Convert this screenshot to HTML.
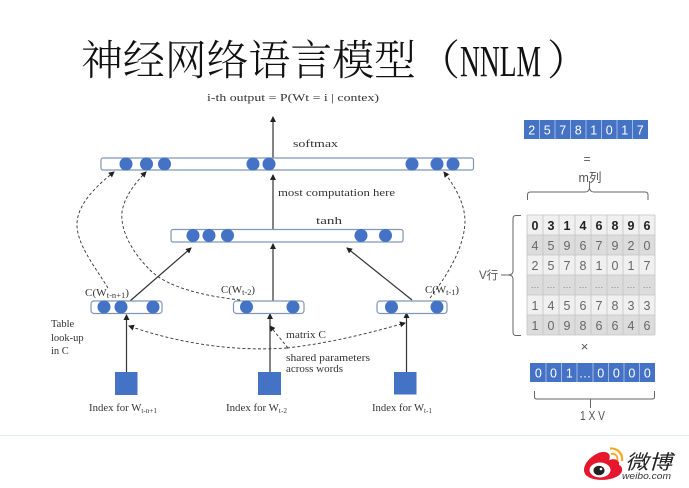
<!DOCTYPE html>
<html><head><meta charset="utf-8"><style>
html,body{margin:0;padding:0;background:#fff;width:689px;height:488px;overflow:hidden}
svg{display:block;filter:blur(.35px)}
.s{font-family:"Liberation Serif",serif;fill:#333;font-size:10.500px}
.a{font-family:"Liberation Sans","Noto Sans CJK SC",sans-serif;fill:#555}
.b{fill:#fff;stroke:#7f96b8;stroke-width:1.2}
.c{fill:#4472c4}
.d{fill:none;stroke:#333;stroke-width:.9;stroke-dasharray:3 2.2}
.l{stroke:#333;stroke-width:1.2;fill:none}
.br{fill:none;stroke:#666;stroke-width:1}
</style></head><body>
<svg width="689" height="488" viewBox="0 0 689 488" xmlns="http://www.w3.org/2000/svg">
<defs><marker id="m" markerWidth="7" markerHeight="7" refX="5" refY="3" orient="auto" markerUnits="userSpaceOnUse"><path d="M0 0L6 3L0 6z" fill="#222"/></marker></defs>

<text x="81" y="75" font-family="'Noto Serif CJK SC','IPAGothic',serif" font-weight="300" font-size="42" fill="#111" textLength="335" lengthAdjust="spacing">神经网络语言模型</text>
<text x="418" y="75" font-family="'Noto Serif CJK SC','IPAGothic',serif" font-weight="300" font-size="42" fill="#111">（</text>
<text x="460" y="76" font-family="'Liberation Serif',serif" font-size="44" fill="#111" textLength="81" lengthAdjust="spacingAndGlyphs">NNLM</text>
<text x="547" y="75" font-family="'Noto Serif CJK SC','IPAGothic',serif" font-weight="300" font-size="42" fill="#111">）</text>

<text class="s" x="207" y="101" font-size="11.500" fill="#222" textLength="172" lengthAdjust="spacingAndGlyphs">i-th output = P(Wt = i | contex)</text>
<text class="s" x="293" y="147" font-size="12" textLength="45" lengthAdjust="spacingAndGlyphs">softmax</text>
<text class="s" x="278" y="196" font-size="11" textLength="117" lengthAdjust="spacingAndGlyphs">most computation here</text>
<text class="s" x="316" y="224" font-size="12" textLength="26" lengthAdjust="spacingAndGlyphs">tanh</text>

<line class="l" x1="273" y1="158" x2="273" y2="117" marker-end="url(#m)"/>
<line class="l" x1="273" y1="229" x2="273" y2="175" marker-end="url(#m)"/>
<line class="l" x1="273" y1="301" x2="273" y2="244" marker-end="url(#m)"/>
<line class="l" x1="130" y1="301" x2="191" y2="248" marker-end="url(#m)"/>
<line class="l" x1="412" y1="300" x2="347" y2="248" marker-end="url(#m)"/>
<line class="l" x1="126.500" y1="372" x2="126.500" y2="315" marker-end="url(#m)"/>
<line class="l" x1="270" y1="372" x2="270" y2="314" stroke-width="1.500" marker-end="url(#m)"/>
<line class="l" x1="406.500" y1="372" x2="406.500" y2="313" marker-end="url(#m)"/>

<rect class="b" x="101" y="158" width="372.500" height="12" rx="2"/>
<rect class="b" x="171" y="229.500" width="232" height="12.500" rx="2"/>
<rect class="b" x="91" y="301" width="71" height="12.500" rx="3"/>
<rect class="b" x="233.500" y="301" width="70.500" height="12.500" rx="3"/>
<rect class="b" x="377" y="301" width="70" height="12.500" rx="3"/>

<g class="c">
<circle cx="126" cy="164" r="6.500"/><circle cx="146.500" cy="164" r="6.500"/><circle cx="164.500" cy="164" r="6.500"/>
<circle cx="253" cy="164" r="6.500"/><circle cx="269" cy="164" r="6.500"/><circle cx="412" cy="164" r="6.500"/>
<circle cx="437" cy="164" r="6.500"/><circle cx="453" cy="164" r="6.500"/>
<circle cx="193" cy="235.500" r="6.500"/><circle cx="209" cy="235.500" r="6.500"/><circle cx="227.500" cy="235.500" r="6.500"/>
<circle cx="361" cy="235.500" r="6.500"/><circle cx="385.500" cy="235.500" r="6.500"/>
<circle cx="104" cy="307" r="6.500"/><circle cx="121" cy="307" r="6.500"/><circle cx="153" cy="307" r="6.500"/>
<circle cx="246.500" cy="307" r="6.500"/><circle cx="293" cy="307" r="6.500"/>
<circle cx="391.500" cy="307" r="6.500"/><circle cx="437" cy="307" r="6.500"/>
<rect x="115" y="372" width="22.500" height="23"/><rect x="258" y="372" width="23" height="23"/><rect x="394" y="372" width="22.500" height="22.500"/>
</g>

<path class="d" d="M108 288C96 268 76 244 77 223C78 204 96 186 114 172" marker-end="url(#m)"/>
<path class="d" d="M240 300C205 296 168 288 150 270C134 254 120 232 122 212C124 198 134 184 146 172" marker-end="url(#m)"/>
<path class="d" d="M430 298C445 278 464 250 465 222C465 204 456 188 444 172" marker-end="url(#m)"/>
<path class="d" d="M287 348C230 352 175 342 129 326" marker-end="url(#m)"/>
<path class="d" d="M287 348C330 343 370 333 405 323" marker-end="url(#m)"/>
<path class="d" d="M288 348L270 326" marker-end="url(#m)"/>

<text class="s" x="85" y="296" font-size="12" textLength="44" lengthAdjust="spacingAndGlyphs">C(W<tspan font-size="8" dy="2">t-n+1</tspan><tspan dy="-2">)</tspan></text>
<text class="s" x="221" y="293" font-size="12" textLength="34" lengthAdjust="spacingAndGlyphs">C(W<tspan font-size="8" dy="2">t-2</tspan><tspan dy="-2">)</tspan></text>
<text class="s" x="425" y="293" font-size="12" textLength="34" lengthAdjust="spacingAndGlyphs">C(W<tspan font-size="8" dy="2">t-1</tspan><tspan dy="-2">)</tspan></text>
<text class="s" x="51" y="327" font-size="11.500">Table</text>
<text class="s" x="51" y="341" font-size="11.500">look-up</text>
<text class="s" x="51" y="354" font-size="11.500">in C</text>
<text class="s" x="286" y="338" font-size="11" textLength="40" lengthAdjust="spacingAndGlyphs">matrix C</text>
<text class="s" x="286" y="361" font-size="10.500" textLength="84" lengthAdjust="spacingAndGlyphs">shared parameters</text>
<text class="s" x="286" y="372" font-size="10.500" textLength="57" lengthAdjust="spacingAndGlyphs">across words</text>
<text class="s" x="89" y="411" font-size="10.500" textLength="68" lengthAdjust="spacingAndGlyphs">Index for W<tspan font-size="7" dy="2">t-n+1</tspan></text>
<text class="s" x="226" y="411" font-size="10.500" textLength="61" lengthAdjust="spacingAndGlyphs">Index for W<tspan font-size="7" dy="2">t-2</tspan></text>
<text class="s" x="372" y="411" font-size="10.500" textLength="60" lengthAdjust="spacingAndGlyphs">Index for W<tspan font-size="7" dy="2">t-1</tspan></text>

<!-- top array -->
<rect x="524" y="120" width="124" height="19" fill="#4472c4"/>
<g stroke="#b9c9e6" stroke-width=".8">
<line x1="539.500" y1="120" x2="539.500" y2="139"/><line x1="555" y1="120" x2="555" y2="139"/><line x1="570.500" y1="120" x2="570.500" y2="139"/><line x1="586" y1="120" x2="586" y2="139"/><line x1="601.500" y1="120" x2="601.500" y2="139"/><line x1="617" y1="120" x2="617" y2="139"/><line x1="632.500" y1="120" x2="632.500" y2="139"/>
</g>
<g font-family="'Liberation Sans',sans-serif" font-size="12.500" fill="#fff" text-anchor="middle">
<text x="531.700" y="134.500">2</text><text x="547.200" y="134.500">5</text><text x="562.700" y="134.500">7</text><text x="578.200" y="134.500">8</text><text x="593.700" y="134.500">1</text><text x="609.200" y="134.500">0</text><text x="624.700" y="134.500">1</text><text x="640.200" y="134.500">7</text>
</g>
<text class="a" x="587" y="163" font-size="12" text-anchor="middle">=</text>
<text class="a" x="590" y="182" font-size="12.500" text-anchor="middle">m列</text>
<path class="br" d="M527.500 200V195Q527.500 192 530.500 192H585Q589 192 589.500 188V181M589.500 188Q590 192 594 192H645Q648 192 648 195V200"/>

<!-- table -->
<rect x="527" y="215" width="128" height="20" fill="#f0f0f0"/>
<rect x="527" y="235" width="128" height="20" fill="#dcdcdc"/>
<rect x="527" y="255" width="128" height="20" fill="#f0f0f0"/>
<rect x="527" y="275" width="128" height="20" fill="#dcdcdc"/>
<rect x="527" y="295" width="128" height="20" fill="#f0f0f0"/>
<rect x="527" y="315" width="128" height="20" fill="#dcdcdc"/>
<g stroke="#c4c4c4" stroke-width=".8">
<path fill="none" d="M527 215H655M527 235H655M527 255H655M527 275H655M527 295H655M527 315H655M527 335H655M527 215V335M543 215V335M559 215V335M575 215V335M591 215V335M607 215V335M623 215V335M639 215V335M655 215V335"/>
</g>
<g font-family="'Liberation Sans',sans-serif" font-size="12.500" fill="#444" text-anchor="middle">
<g font-weight="700" fill="#222"><text x="535" y="230">0</text><text x="551" y="230">3</text><text x="567" y="230">1</text><text x="583" y="230">4</text><text x="599" y="230">6</text><text x="615" y="230">8</text><text x="631" y="230">9</text><text x="647" y="230">6</text></g>
<g fill="#666"><text x="535" y="250">4</text><text x="551" y="250">5</text><text x="567" y="250">9</text><text x="583" y="250">6</text><text x="599" y="250">7</text><text x="615" y="250">9</text><text x="631" y="250">2</text><text x="647" y="250">0</text></g>
<g fill="#666"><text x="535" y="270">2</text><text x="551" y="270">5</text><text x="567" y="270">7</text><text x="583" y="270">8</text><text x="599" y="270">1</text><text x="615" y="270">0</text><text x="631" y="270">1</text><text x="647" y="270">7</text></g>
<g fill="#777" font-size="9"><text x="535" y="288">…</text><text x="551" y="288">…</text><text x="567" y="288">…</text><text x="583" y="288">…</text><text x="599" y="288">…</text><text x="615" y="288">…</text><text x="631" y="288">…</text><text x="647" y="288">…</text></g>
<g fill="#666"><text x="535" y="310">1</text><text x="551" y="310">4</text><text x="567" y="310">5</text><text x="583" y="310">6</text><text x="599" y="310">7</text><text x="615" y="310">8</text><text x="631" y="310">3</text><text x="647" y="310">3</text></g>
<g fill="#666"><text x="535" y="330">1</text><text x="551" y="330">0</text><text x="567" y="330">9</text><text x="583" y="330">8</text><text x="599" y="330">6</text><text x="615" y="330">6</text><text x="631" y="330">4</text><text x="647" y="330">6</text></g>
</g>
<text class="a" x="479" y="279" font-size="11.500">V行</text>
<path class="br" d="M521 215.500H516Q513 215.500 513 218.500V271Q513 275 508 275H501M508 275Q513 275 513 279V332Q513 335.500 516 335.500H521"/>

<text class="a" x="584.500" y="351" font-size="13" text-anchor="middle">×</text>

<!-- bottom array -->
<rect x="530" y="363" width="125" height="19" fill="#4472c4"/>
<g stroke="#b9c9e6" stroke-width=".8">
<line x1="546" y1="363" x2="546" y2="382"/><line x1="561.500" y1="363" x2="561.500" y2="382"/><line x1="577" y1="363" x2="577" y2="382"/><line x1="593" y1="363" x2="593" y2="382"/><line x1="608.500" y1="363" x2="608.500" y2="382"/><line x1="624" y1="363" x2="624" y2="382"/><line x1="639.500" y1="363" x2="639.500" y2="382"/>
</g>
<g font-family="'Liberation Sans',sans-serif" font-size="12.500" fill="#fff" text-anchor="middle">
<text x="538.300" y="377.500">0</text><text x="553.500" y="377.500">0</text><text x="569.300" y="377.500">1</text><text x="585" y="377.500">…</text><text x="600.700" y="377.500">0</text><text x="616.300" y="377.500">0</text><text x="631.800" y="377.500">0</text><text x="647.300" y="377.500">0</text>
</g>
<path class="br" d="M534.500 391V397Q534.500 399 537 399H590.500V408M590.500 399H652Q654.500 399 654.500 397V391"/>
<text class="a" x="580" y="420" font-size="12.500" textLength="25" lengthAdjust="spacingAndGlyphs">1 X V</text>

<line x1="0" y1="435.500" x2="689" y2="435.500" stroke="#d9ecf2" stroke-width="1"/>

<!-- logo -->
<path d="M584 470C584 461 597 451 605 452C611 453 610 458 609 460C615 458 620 460 619 465C624 467 623 474 616 477C606 482 584 481 584 470Z" fill="#e6162d"/>
<ellipse cx="600" cy="470" rx="10.500" ry="7.500" fill="#fff"/>
<ellipse cx="599" cy="470.500" rx="5.500" ry="4.800" fill="#222"/>
<circle cx="601" cy="469" r="1.300" fill="#fff"/>
<path d="M610 448.500C617 448 623 453 622 461" fill="none" stroke="#f5a623" stroke-width="2.200"/>
<path d="M611 454C615 453 618 456 617.500 460.500" fill="none" stroke="#f5a623" stroke-width="1.800"/>
<text x="625" y="469" font-family="'Noto Sans CJK SC',sans-serif" font-size="20" fill="#222" font-style="italic" textLength="47" lengthAdjust="spacingAndGlyphs">微博</text>
<text x="622" y="479" font-family="'Liberation Sans',sans-serif" font-size="9" font-style="italic" fill="#333" textLength="49" lengthAdjust="spacingAndGlyphs">weibo.com</text>
</svg>
</body></html>
